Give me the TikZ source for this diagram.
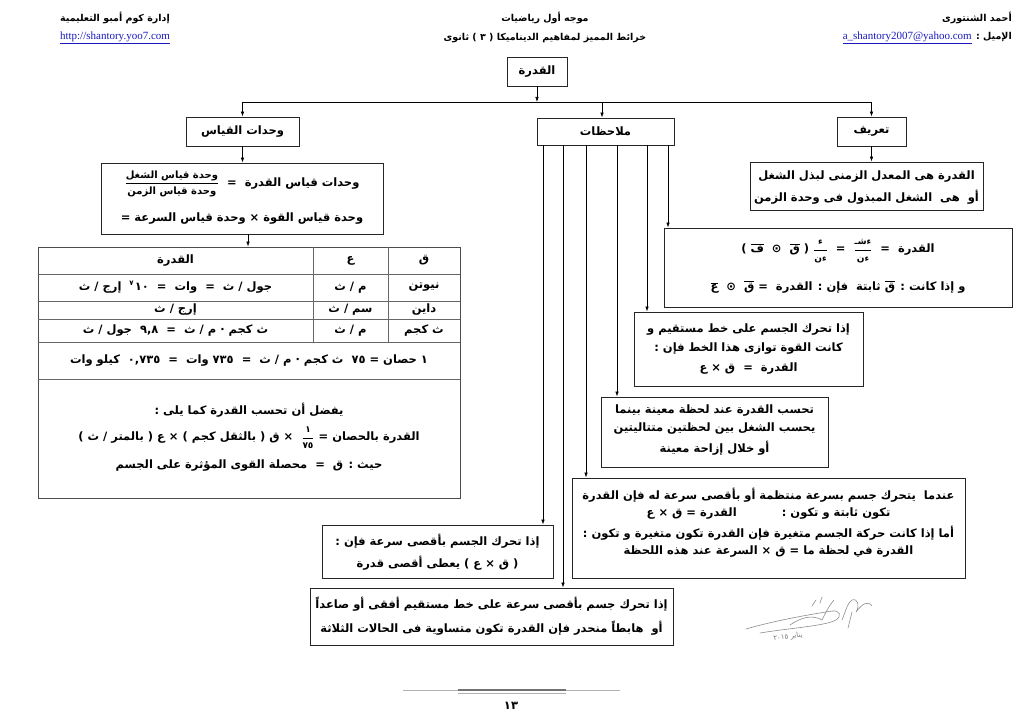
\documentclass[tikz,border=0pt]{standalone}
\usepackage{fontspec}
\setmainfont{Liberation Serif}
\newfontfamily\ar[Script=Arabic]{DejaVu Sans}
\TeXXeTstate=1
\usetikzlibrary{arrows.meta}
\definecolor{linkblue}{RGB}{25,25,190}
\newcommand\R[1]{\beginR #1\endR}
\newcommand\vv[1]{\hbox{$\overline{\hbox{\ar\bfseries #1}}$}}
\newcommand\fr[3][9]{\hbox{$\displaystyle\frac{\hbox{\ar\bfseries\fontsize{#1}{#1}\selectfont\beginR #2\endR}}{\hbox{\ar\bfseries\fontsize{#1}{#1}\selectfont\beginR #3\endR}}$}}
\begin{document}
\begin{tikzpicture}[x=1pt,y=-1pt,
  box/.style={draw=black!85, line width=0.9pt, fill=white, inner sep=0pt},
  tbox/.style={draw=black!70, line width=0.8pt, inner sep=0pt},
  tl/.style={draw=black!60, line width=0.6pt},
  arr/.style={-{Latex[length=5pt,width=3.5pt]}, line width=0.6pt},
  ln/.style={line width=0.6pt},
  tx/.style={font=\ar\bfseries\fontsize{11.5}{13}\selectfont, inner sep=0pt},
  hd/.style={font=\ar\bfseries\fontsize{9.5}{11}\selectfont, inner sep=0pt},
  url/.style={font=\fontsize{11}{12}\selectfont, text=linkblue, inner sep=0pt},
  sig/.style={draw=black!45, line width=0.6pt, line cap=round},
]
\useasboundingbox (0,0) rectangle (1024,727);
% header
\node[hd] (h1) at (115,18) {\R{إدارة كوم أمبو التعليمية}};
\node[url] (h2) at (115,38) {\underline{http://shantory.yoo7.com}};
\node[hd] (h3) at (545,18) {\R{موجه أول رياضيات}};
\node[hd] (h4) at (545,38) {\R{خرائط المميز لمفاهيم الديناميكا ( ٣ ) ثانوى}};
\node[hd, anchor=east] (h5) at (1012,18) {\R{أحمد الشنتورى}};
\node[hd, anchor=east] (h6) at (1012,38) {\R{الإميل : \beginL{\rmfamily\mdseries\fontsize{11}{12}\selectfont\color{linkblue}\underline{a\_shantory2007@yahoo.com}}\endL}};
% top level
\node[box, minimum width=60, minimum height=29] (root) at (537,71.5) {};
\node[tx] (roott) at (537,71.5) {\R{القدرة}};
\node[box, minimum width=113, minimum height=29] (units) at (242.5,131.5) {};
\node[tx] (unitst) at (242.5,131.5) {\R{وحدات القياس}};
\node[box, minimum width=137, minimum height=27] (notes) at (605.5,131.5) {};
\node[tx] (notest) at (605.5,131.5) {\R{ملاحظات}};
\node[box, minimum width=69, minimum height=29] (def) at (871.5,131.5) {};
\node[tx] (deft) at (871.5,131.5) {\R{تعريف}};
\coordinate (bm) at (537,102);
\coordinate (bl) at (242.5,102);
\coordinate (br) at (871.5,102);
\coordinate (bn) at (602,102);
\draw[arr] (root.south) -- (bm);
\draw[ln] (bl) -- (br);
\draw[arr] (bl) -- (units.north);
\draw[arr] (bn) -- (bn |- notes.north);
\draw[arr] (br) -- (def.north);
% definition
\node[box, minimum width=233, minimum height=48] (defbox) at (866.5,186) {};
\node[tx] (d1) at (866.5,177) {\R{القدرة هى المعدل الزمنى لبذل الشغل}};
\node[tx] (d2) at (866.5,197) {\R{أو \ هى \ الشغل المبذول فى وحدة الزمن}};
\draw[arr] (def.south) -- (def.south |- defbox.north);
% formula box
\node[box, minimum width=348, minimum height=79] (form) at (838,267.5) {};
\node[tx] (f1) at (838,251) {\R{القدرة \ = \ \fr{ءشـ}{ءن} \ = \ \fr{ء}{ءن} ( \vv{ق} \ ⊙ \ \vv{ف} )}};
\node[tx] (f2) at (838,287) {\R{و إذا كانت : \vv{ق} ثابتة \ فإن : القدرة \ = \vv{ق} \ ⊙ \ \vv{ع}}};
% box A
\node[box, minimum width=229, minimum height=74] (boxA) at (748.5,349) {};
\node[tx] (a1) at (748.5,330) {\R{إذا تحرك الجسم على خط مستقيم و}};
\node[tx] (a2) at (748.5,349) {\R{كانت القوة توازى هذا الخط فإن :}};
\node[tx] (a3) at (748.5,369) {\R{القدرة \ = \ ق × ع}};
% box B
\node[box, minimum width=227, minimum height=70] (boxB) at (714.5,432) {};
\node[tx] (b1) at (714.5,411) {\R{تحسب القدرة عند لحظة معينة بينما}};
\node[tx] (b2) at (714.5,429) {\R{يحسب الشغل بين لحظتين متتاليتين}};
\node[tx] (b3) at (714.5,448) {\R{أو خلال إزاحة معينة}};
% box C
\node[box, minimum width=393, minimum height=100] (boxC) at (768.5,528) {};
\node[tx] (c1) at (768.5,495) {\R{عندما \ يتحرك جسم بسرعة منتظمة أو بأقصى سرعة له فإن القدرة}};
\node[tx] (c2) at (768.5,514) {\R{تكون ثابتة و تكون : \hspace{3em} القدرة = ق × ع}};
\node[tx] (c3) at (768.5,533) {\R{أما إذا كانت حركة الجسم متغيرة فإن القدرة تكون متغيرة و تكون :}};
\node[tx] (c4) at (768.5,552) {\R{القدرة في لحظة ما = ق × السرعة عند هذه اللحظة}};
% box D
\node[box, minimum width=231, minimum height=53] (boxD) at (437.5,551.5) {};
\node[tx] (dd1) at (437.5,541) {\R{إذا تحرك الجسم بأقصى سرعة فإن :}};
\node[tx] (dd2) at (437.5,563) {\R{( ق × ع ) يعطى أقصى قدرة}};
% box E
\node[box, minimum width=363, minimum height=57] (boxE) at (491.5,616.5) {};
\node[tx] (e1) at (491.5,604) {\R{إذا تحرك جسم بأقصى سرعة على خط مستقيم أفقى أو صاعداً}};
\node[tx] (e2) at (491.5,628) {\R{أو \ هابطاً منحدر فإن القدرة تكون متساوية فى الحالات الثلاثة}};
% notes connectors
\coordinate (n1) at (543,145);
\coordinate (n2) at (563,145);
\coordinate (n3) at (586,145);
\coordinate (n4) at (617,145);
\coordinate (n5) at (647,145);
\coordinate (n6) at (668,145);
\draw[arr] (n6) -- (n6 |- form.north);
\draw[arr] (n5) -- (n5 |- boxA.north);
\draw[arr] (n4) -- (n4 |- boxB.north);
\draw[arr] (n3) -- (n3 |- boxC.north);
\draw[arr] (n1) -- (n1 |- boxD.north);
\draw[arr] (n2) -- (n2 |- boxE.north);
% units formula
\node[box, minimum width=282, minimum height=71] (uf) at (242,198.5) {};
\node[tx] (u1) at (242,184) {\R{وحدات قياس القدرة \ = \ \fr[10]{وحدة قياس الشغل}{وحدة قياس الزمن}}};
\node[tx] (u2) at (242,219) {\R{وحدة قياس القوة × وحدة قياس السرعة =}};
\draw[arr] (units.south) -- (units.south |- uf.north);
% table
\node[tbox, minimum width=422, minimum height=251] (tbl) at (249,372.5) {};
\draw[arr] ([xshift=6pt]uf.south) -- ([xshift=6pt]uf.south |- tbl.north);
\draw[tl] (38,274) -- (460,274);
\draw[tl] (38,301) -- (460,301);
\draw[tl] (38,319) -- (460,319);
\draw[tl] (38,342) -- (460,342);
\draw[tl] (38,379) -- (460,379);
\draw[tl] (313,247) -- (313,342);
\draw[tl] (388,247) -- (388,342);
\node[tx] (t11) at (175.5,260.5) {\R{القدرة}};
\node[tx] (t12) at (350.5,260.5) {\R{ع}};
\node[tx] (t13) at (424,260.5) {\R{ق}};
\node[tx] (t21) at (175.5,287.5) {\R{جول / ث \ = \ وات \ = \ \hbox{١٠\raisebox{5pt}{\fontsize{7}{7}\selectfont\,٧}} \ إرج / ث}};
\node[tx] (t22) at (350.5,287.5) {\R{م / ث}};
\node[tx] (t23) at (424,287.5) {\R{نيوتن}};
\node[tx] (t31) at (175.5,310) {\R{إرج / ث}};
\node[tx] (t32) at (350.5,310) {\R{سم / ث}};
\node[tx] (t33) at (424,310) {\R{داين}};
\node[tx] (t41) at (175.5,330.5) {\R{ث كجم · م / ث \ = \ ٩,٨ \ جول / ث}};
\node[tx] (t42) at (350.5,330.5) {\R{م / ث}};
\node[tx] (t43) at (424,330.5) {\R{ث كجم}};
\node[tx] (t5) at (249,360.5) {\R{١ حصان = ٧٥ \ ث كجم · م / ث \ = \ ٧٣٥ وات \ = \ ٠,٧٣٥ \ كيلو وات}};
\node[tx] (t6) at (249,410) {\R{يفضل أن تحسب القدرة كما يلى :}};
\node[tx] (t7) at (249,438) {\R{القدرة بالحصان = \fr{١}{٧٥} \ × ق ( بالثقل كجم ) × ع ( بالمتر / ث )}};
\node[tx] (t8) at (249,466) {\R{حيث : ق \ = \ محصلة القوى المؤثرة على الجسم}};
% signature
\draw[sig] (746,629) .. controls (770,622) and (800,616) .. (832,611) .. controls (840,610) and (842,616) .. (836,620) .. controls (825,626) and (790,628) .. (760,633);
\draw[sig] (790,625) .. controls (800,618) and (812,614) .. (822,620) .. controls (826,612) and (830,604) .. (834,600);
\draw[sig] (812,606) -- (816,600) (820,603) -- (822,597);
\draw[sig] (842,620) .. controls (846,610) and (848,602) .. (852,600) .. controls (858,598) and (860,606) .. (856,612) .. controls (862,604) and (868,600) .. (872,606);
\draw[sig] (852,612) -- (848,628);
\node[font=\ar\fontsize{7}{8}\selectfont, text=black!55, rotate=8, inner sep=0pt] (sigdate) at (788,637) {\R{يناير ٢٠١٥}};
% footer
\coordinate (fl) at (403,690);
\coordinate (fr) at (620,690);
\draw[draw=black!30, line width=0.8pt] (fl) -- (fr);
\draw[draw=black!55, line width=1.3pt] (458,690) -- (566,690);
\draw[draw=black!30, line width=0.6pt] (458,693.5) -- (566,693.5);
\node[tx] (pg) at (511,706) {\R{١٣}};
\end{tikzpicture}
\end{document}
